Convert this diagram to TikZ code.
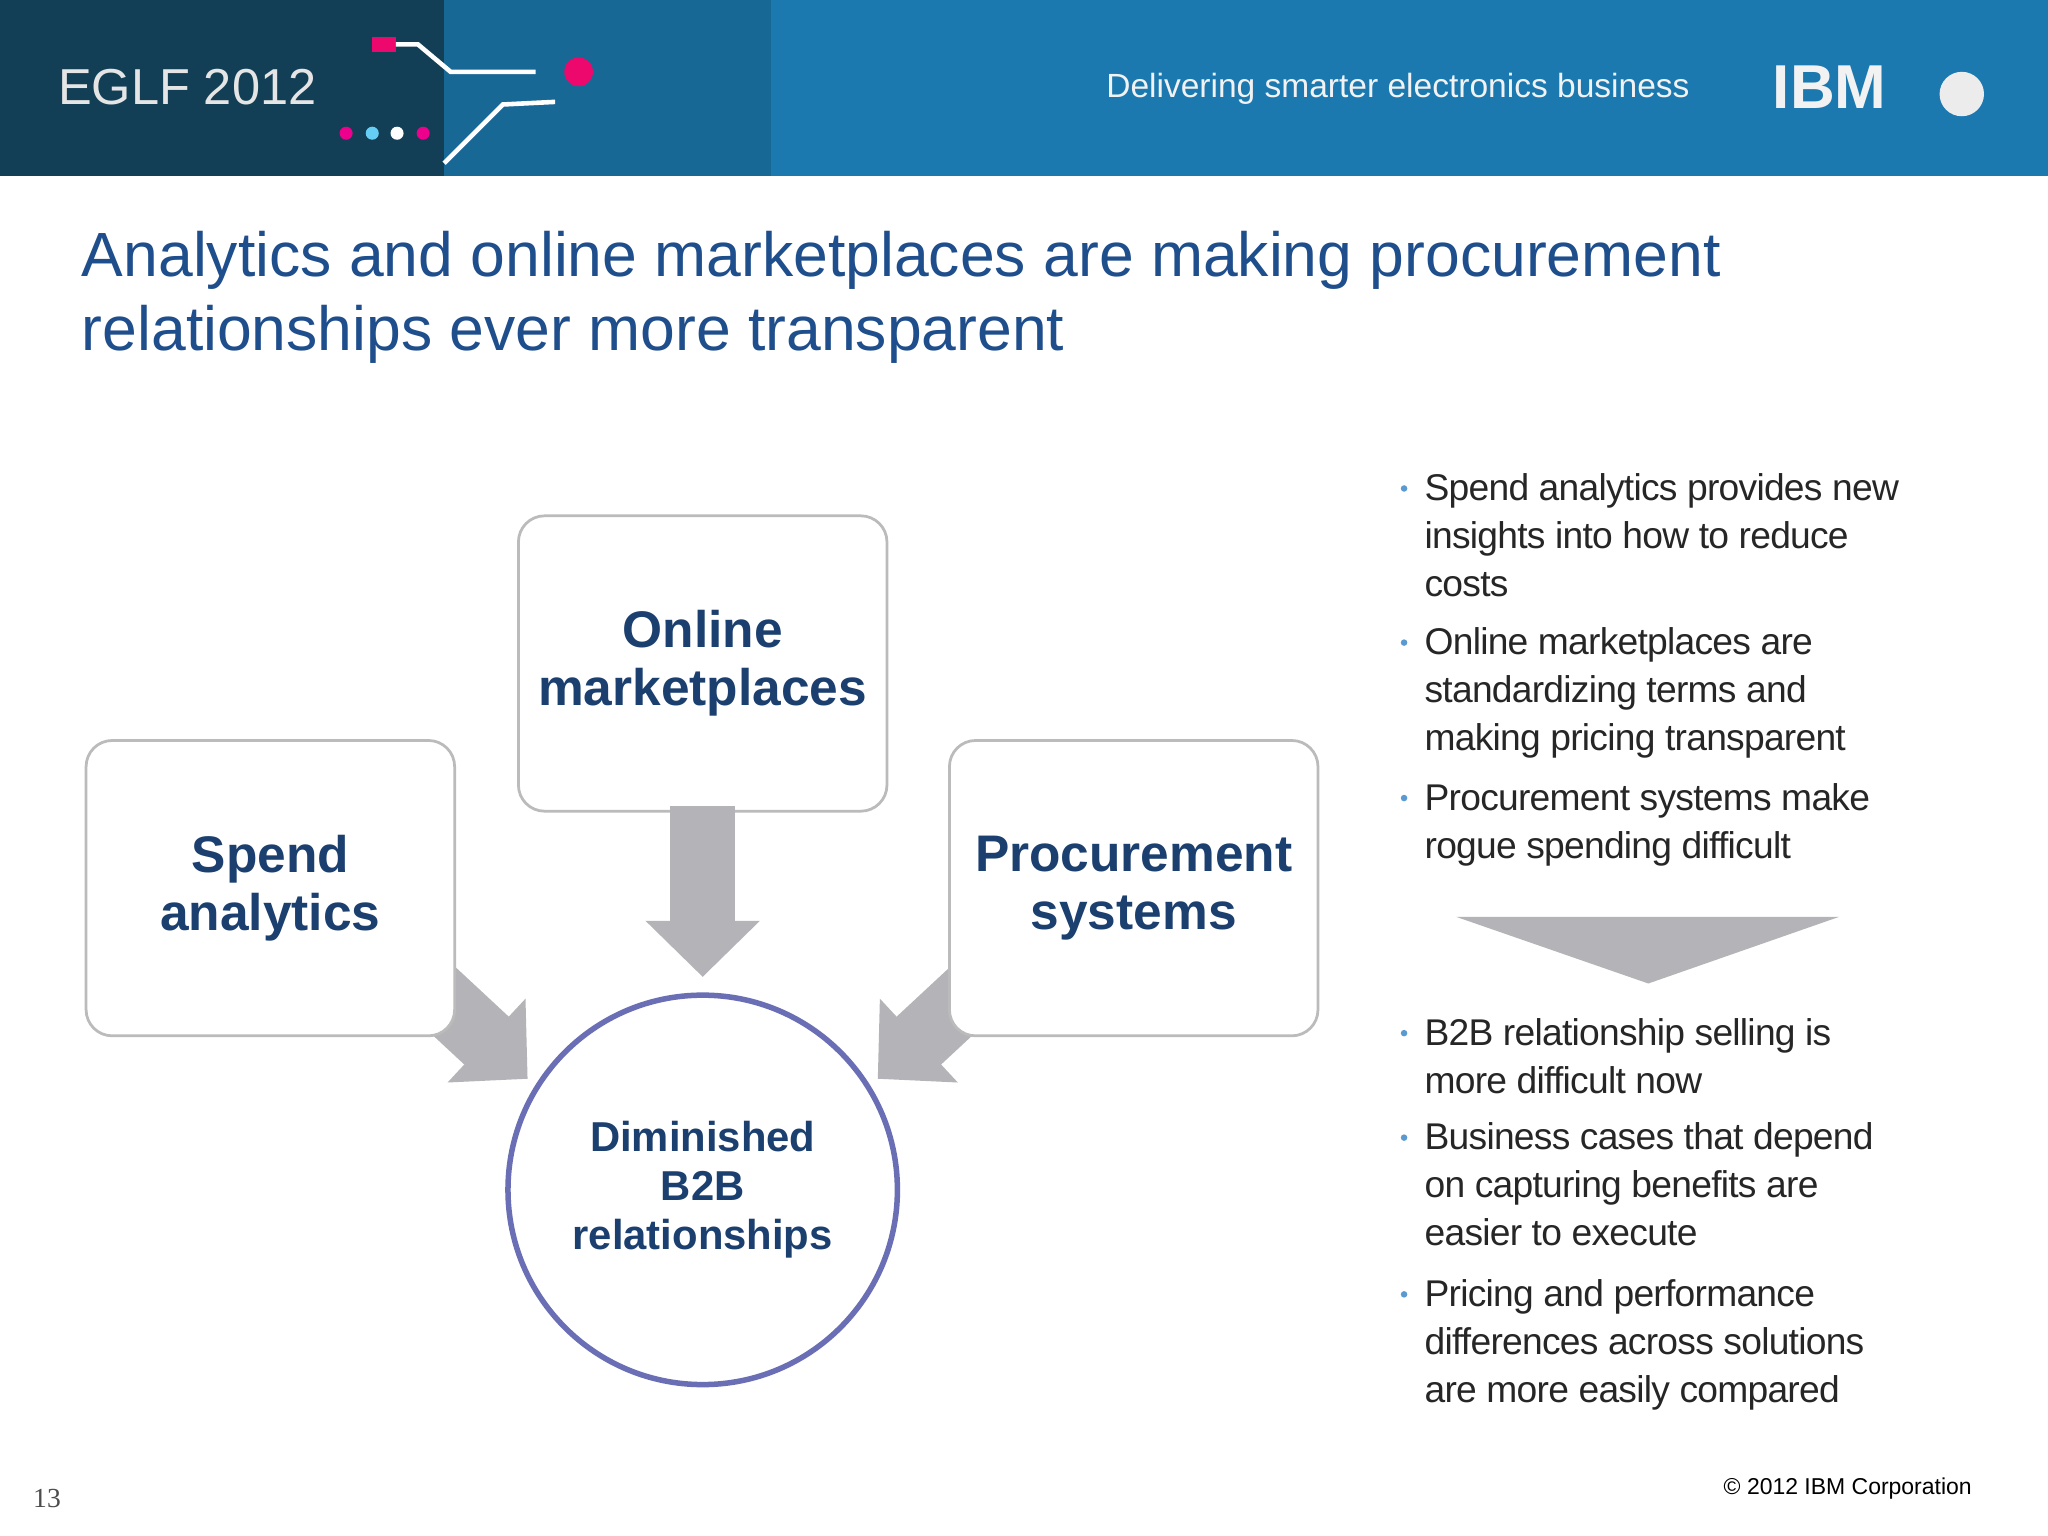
\documentclass[tikz,border=0pt]{standalone}
\usepackage{fontspec}
\setmainfont{Liberation Sans}
\usetikzlibrary{arrows.meta}
\definecolor{hdark}{HTML}{123F55}
\definecolor{hblue}{HTML}{1B79B0}
\definecolor{ttl}{HTML}{1F4E8C}
\definecolor{boxtxt}{HTML}{1B3F6E}
\definecolor{agray}{HTML}{B4B4B8}
\definecolor{bgray}{HTML}{BBBBBB}
\definecolor{circ}{HTML}{6A6FB5}
\definecolor{bul}{HTML}{5A9AD0}
\begin{document}
\begin{tikzpicture}[x=0.01cm,y=-0.01cm,
  bx/.style={draw=bgray,line width=0.6pt,rounded corners=0.2cm,fill=white,minimum width=2.82cm,minimum height=2.26cm,align=center,text=boxtxt,font=\fontsize{11.2}{12.6}\selectfont\bfseries},
  fat/.style={agray,line width=0.5cm,-{Triangle[length=0.43cm,width=0.85cm]}},
  btxt/.style={anchor=north west,align=left,text=black!85,font=\fontsize{8.1}{10.4}\selectfont\addfontfeature{LetterSpace=-2},inner sep=0pt},
  bdot/.style={circle,fill=bul,inner sep=0pt,minimum size=0.05cm}]
\useasboundingbox (0,0) rectangle (1568,1176);
\fill[white] (0,0) rectangle (1568,1176);
% header
\fill[hblue] (0,0) rectangle (1568,135);
\fill[hdark] (0,0) rectangle (590,135);
\fill[hblue!70!hdark] (340,0) rectangle (590,135);
\node[anchor=west,text=white!80!gray,font=\fontsize{11}{12}\selectfont] (eglf) at (32,67) {EGLF 2012};
\node[anchor=east,text=white!90!gray,font=\fontsize{7.3}{8}\selectfont] (deliv) at (1306,68) {Delivering smarter electronics business};
\node[anchor=west,text=white!90!gray,font=\fontsize{13.5}{15}\selectfont\bfseries] (ibm) at (1345,67) {IBM};
\node[circle,fill=white!85!gray,minimum size=0.34cm,inner sep=0pt] (globe) at (1502,72) {};
\fill[magenta!70!red] (285,28) rectangle (303,40);
\draw[white,line width=1pt] (303,34) -- (320,34) -- (345,55) -- (410,55);
\fill[magenta!70!red] (443,55) circle (11);
\draw[white,line width=1pt] (340,125) -- (385,80) -- (425,78);
\foreach \x/\c in {265/magenta,285/cyan!60,304/white,324/magenta} \fill[\c] (\x,102) circle (5);
% title
\node[anchor=north west,align=left,text=ttl,font=\fontsize{13.6}{16.2}\selectfont,inner sep=0pt] (title) at (62,176) {Analytics and online marketplaces are making procurement\\relationships ever more transparent};
% arrows
\coordinate (la) at (290,720);
\coordinate (lt) at (404,826);
\coordinate (ra) at (786,720);
\coordinate (rt) at (672,826);
\draw[fat] (la) -- (lt);
\draw[fat] (ra) -- (rt);
\node[bx] (spend) at (207,680) {Spend\\analytics};
\node[bx] (online) at (538,508) {Online\\marketplaces};
\node[bx] (proc) at (868,680) {Procurement\\systems};
\draw[fat] (online.south) ++(0,-5) coordinate (os) -- (538,748) coordinate (ot);
\node[circle,draw=circ,line width=1.2pt,minimum size=2.98cm,align=center,text=boxtxt,font=\fontsize{9.1}{10.6}\selectfont\bfseries] (dim) at (538,911) {Diminished\\B2B\\relationships};
% right
\foreach \y/\t in {362/{Spend analytics provides new\\insights into how to reduce\\costs},480/{Online marketplaces are\\standardizing terms and\\making pricing transparent},599/{Procurement systems make\\rogue spending difficult},779/{B2B relationship selling is\\more difficult now},859/{Business cases that depend\\on capturing benefits are\\easier to execute},979/{Pricing and performance\\differences across solutions\\are more easily compared}}{
  \node[btxt] at (1090,\y) {\t};
  \node[bdot] at (1075,\y+12) {};
}
\fill[agray] (1115,702) -- (1408,702) -- (1262,753) -- cycle;
% footer
\node[font=\fontsize{6}{6}\selectfont,text=black!70] (pg) at (36,1147) {\fontspec{Liberation Serif}13};
\node[anchor=east,font=\fontsize{5}{6}\selectfont,text=black] (copy) at (1522,1140) {© 2012 IBM Corporation};
\end{tikzpicture}
\end{document}
